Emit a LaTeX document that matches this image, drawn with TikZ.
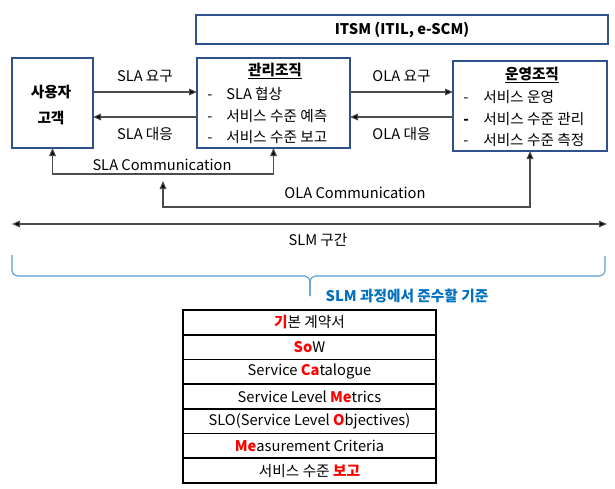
\documentclass[tikz,border=0pt]{standalone}
\usepackage{fontspec}
\setmainfont{Noto Sans CJK KR}
\usetikzlibrary{arrows.meta,positioning}
\definecolor{boxblue}{HTML}{2F528F}
\definecolor{bracecol}{HTML}{5B9BD5}
\definecolor{textblue}{HTML}{0070C0}
\newcommand{\redbf}[1]{\textcolor{red}{\textbf{#1}}}

\begin{document}
\begin{tikzpicture}[x=0.75pt,y=-0.75pt,font=\fontsize{11}{13.5}\selectfont,
    box/.style={draw=boxblue,line width=1pt,inner sep=0pt,outer sep=0pt},
    item/.style={anchor=west,inner sep=0pt},
    arr/.style={draw=black!70,line width=0.8pt,-{Triangle[length=6pt,width=5pt,fill=black]}},
    biarr/.style={draw=black!70,line width=0.8pt,{Triangle[length=6pt,width=5pt,fill=black]}-{Triangle[length=6pt,width=5pt,fill=black]}},
    cell/.style={draw=black,line width=1.2pt,inner sep=0pt,outer sep=0pt,minimum width=189.75pt,minimum height=18.53pt}]
    \useasboundingbox (0,0) rectangle (615,489);

    \node[box,minimum width=309pt,minimum height=21.75pt] (itsm) at (402,29.5) {\textbf{ITSM (ITIL, e-SCM)}};
    \node[box,minimum width=60.75pt,minimum height=67.5pt] (user) at (52.5,103) {};
    \node[box,minimum width=114.75pt,minimum height=67.5pt] (mgmt) at (273.5,103) {};
    \node[box,minimum width=115.5pt,minimum height=67.5pt] (ops) at (530,106) {};

    \node (user1) at (51,92) {\textbf{사용자}};
    \node (user2) at (51,118) {\textbf{고객}};

    \node (mgmtT) at (275,71) {\textbf{\underline{관리조직}}};
    \node[item] (mgmt1) at (207,94) {\makebox[14.25pt][l]{-}SLA 협상};
    \node[item] (mgmt2) at (207,116) {\makebox[14.25pt][l]{-}서비스 수준 예측};
    \node[item] (mgmt3) at (207,137) {\makebox[14.25pt][l]{-}서비스 수준 보고};

    \node (opsT) at (532,75) {\textbf{\underline{운영조직}}};
    \node[item] (ops1) at (463,97) {\makebox[15pt][l]{-}서비스 운영};
    \node[item] (ops2) at (463,119) {\makebox[15pt][l]{\textbf{-}}서비스 수준 관리};
    \node[item] (ops3) at (463,140) {\makebox[15pt][l]{-}서비스 수준 측정};

    \draw[arr] ([yshift=8.25pt]user.east) -- node[above=3pt] (slareq) {SLA 요구} ([yshift=8.25pt]mgmt.west);
    \draw[arr] ([yshift=-10.5pt]mgmt.west) -- node[below=4pt] (slaans) {SLA 대응} ([yshift=-10.5pt]user.east);
    \draw[arr] ([yshift=8.25pt]mgmt.east) -- node[above=3pt] (olareq) {OLA 요구} ([yshift=10.5pt]ops.west);
    \draw[arr] ([yshift=-8.25pt]ops.west) -- node[below=4pt] (olaans) {OLA 대응} ([yshift=-10.5pt]mgmt.east);

    \coordinate (slaC) at (160,174);
    \draw[biarr] (user.south) |- (slaC) -| (mgmt.south);
    \node (slaCtext) at (162,165) {SLA Communication};

    \coordinate (olaEnd) at (163,181);
    \coordinate (olaC) at (350,207);
    \draw[biarr] (olaEnd) |- (olaC) -| (ops.south);
    \node (olaCtext) at (355,193) {OLA Communication};

    \coordinate (slmL) at (12,224);
    \coordinate (slmR) at (607,224);
    \draw[biarr] (slmL) -- (slmR);
    \node (slmtext) at (318,240) {SLM 구간};

    \draw[bracecol,line width=0.8pt,rounded corners=4pt] (12,255) -- (12,276) -- (310,276) -- (310,296);
    \draw[bracecol,line width=0.8pt,rounded corners=4pt] (310,296) -- (310,276) -- (605,276) -- (605,256);
    \node (criteria) at (407,296) {\textcolor{textblue}{\textbf{SLM 과정에서 준수할 기준}}};

    \foreach \txt [count=\i] in {\redbf{기}본 계약서, \redbf{So}W, Service \redbf{Ca}talogue, Service Level \redbf{Me}trics, SLO(Service Level \redbf{O}bjectives), \redbf{Me}asurement Criteria, 서비스 수준 \redbf{보고}}
        \node[cell] (row\i) at (309.5,{310+(\i-0.5)*24.71}) {\txt};

\end{tikzpicture}
\end{document}
